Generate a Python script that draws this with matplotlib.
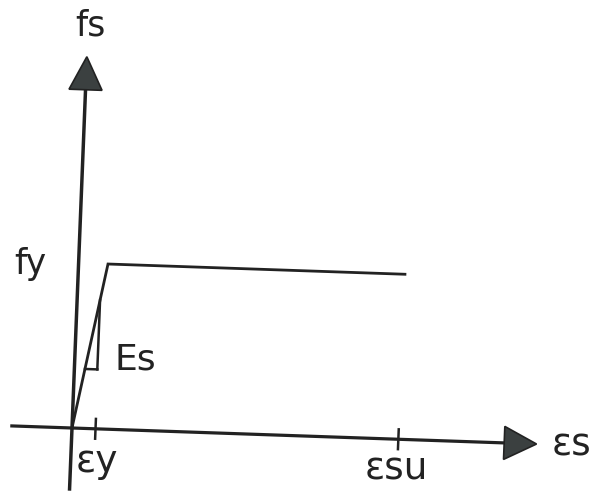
import numpy as np
import matplotlib
matplotlib.use("Agg")
from matplotlib import pyplot as plt
from matplotlib.patches import Polygon
from matplotlib.transforms import Affine2D

# idealised elastic - perfectly plastic steel law (nominal units: eps_y = 1, fy = 1)
strain = [0.0, 1.0, 11.1]
stress = [0.0, 1.0, 1.0]
tick_strains = [0.8, 11.1]
tick_labels = ["\u03b5y", "\u03b5su"]
slope_triangle_x = [0.36, 0.78, 0.78]
slope_triangle_y = [0.36, 0.36, 0.78]

# axis extents in the same nominal units
x_axis = (-2.1, 14.7, 15.8)   # start, arrow base, arrow tip
y_axis = (-0.38, 2.05, 2.25)

INK = "#222222"
FILL = "#3b4040"

fig = plt.figure(figsize=(5.95, 4.93), dpi=100)
ax = fig.add_axes([0, 0, 1, 1])
ax.set_xlim(0, 595)
ax.set_ylim(493, 0)
ax.axis("off")

# the sketch is slightly skewed (scanned drawing): nominal -> canvas
sx, sy = 29.4, 165.0
skew = Affine2D.from_values(sx * 1.0, sx * 0.0345, sy * 0.04, -sy * 1.0, 72, 428)
tr = skew + ax.transData

# axes lines
ax.plot([x_axis[0], x_axis[1]], [0, 0], color=INK, lw=2.3, transform=tr,
        solid_capstyle="butt")
ax.plot([0, 0], [y_axis[0], y_axis[1]], color=INK, lw=2.5, transform=tr,
        solid_capstyle="butt")

# arrow heads
hw_x = 16.5 / sy
hw_y = 16.5 / sx
ax.add_patch(Polygon([[x_axis[1], -hw_x], [x_axis[2], 0], [x_axis[1], hw_x]],
                     closed=True, facecolor=FILL, edgecolor=INK, lw=1.2, transform=tr))
ax.add_patch(Polygon([[-hw_y, y_axis[1]], [0, y_axis[2]], [hw_y, y_axis[1]]],
                     closed=True, facecolor=FILL, edgecolor=INK, lw=1.2, transform=tr))

# stress-strain curve
ax.plot(strain, stress, color=INK, lw=2.0, transform=tr, solid_joinstyle="miter")

# slope triangle
ax.plot(slope_triangle_x[1:], slope_triangle_y[1:], color=INK, lw=1.8, transform=tr)
ax.plot(slope_triangle_x[:2], slope_triangle_y[:2], color=INK, lw=1.8, transform=tr)

# ticks on strain axis
for t in tick_strains:
    ax.plot([t, t], [-0.06, 0.06], color=INK, lw=1.8, transform=tr)

font = dict(family="DejaVu Sans", color=INK, ha="center", va="center")
ax.text(90, 25, "fs", fontsize=25, **font)
ax.text(30, 264, "fy", fontsize=25, **font)
ax.text(135, 360, "Es", fontsize=26, **font)
ax.text(97, 462, tick_labels[0], fontsize=27, **font)
ax.text(396, 470, tick_labels[1], fontsize=27, **font)
ax.text(572, 446, "\u03b5s", fontsize=27, **font)

fig.savefig("out.png", dpi=100)
